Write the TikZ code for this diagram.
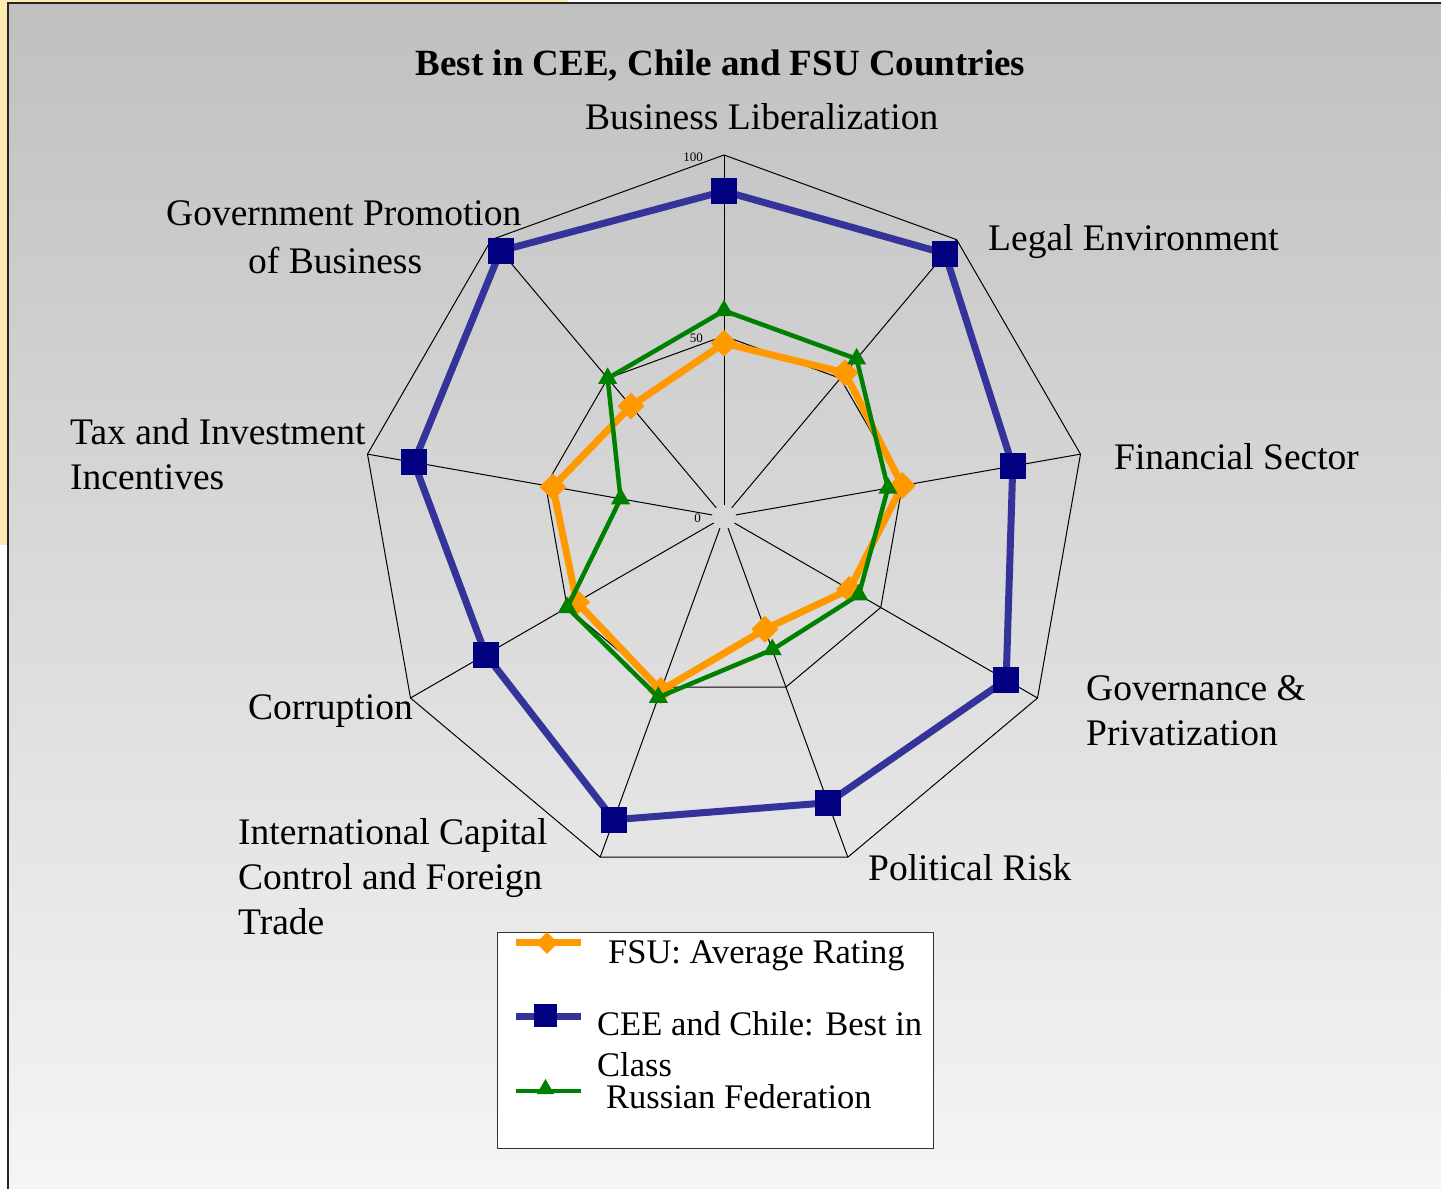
\documentclass[tikz,border=0pt]{standalone}
\usepackage{fontspec}
\setmainfont{Liberation Serif}
\usetikzlibrary{shapes.geometric}
\definecolor{cream}{HTML}{FFE9B3}
\definecolor{fsuorange}{HTML}{FF9900}
\definecolor{ceenavy}{HTML}{000080}
\definecolor{ceeline}{HTML}{333399}
\definecolor{rusgreen}{HTML}{008000}
\definecolor{paneltop}{HTML}{C0C0C0}
\definecolor{panelbot}{HTML}{F5F5F5}
\begin{document}
\begin{tikzpicture}[x=1pt,y=-1pt,
  gridline/.style={line width=1pt, black},
  lbl/.style={font=\fontsize{37.5}{45}\selectfont, inner sep=0pt},
  leglbl/.style={font=\fontsize{34.5}{41}\selectfont, inner sep=0pt},
  ticklbl/.style={font=\fontsize{13}{15}\selectfont, inner sep=0pt, anchor=east},
  fsuline/.style={line width=7pt, fsuorange, line join=round},
  ceeseries/.style={line width=7pt, ceeline, line join=round},
  russeries/.style={line width=4.5pt, rusgreen, line join=round},
  fsumark/.style={diamond, fill=fsuorange, minimum width=27pt, minimum height=27pt, inner sep=0pt, aspect=1},
  ceemark/.style={rectangle, fill=ceenavy, minimum size=26pt, inner sep=0pt},
  rusmark/.style={regular polygon, regular polygon sides=3, fill=rusgreen, minimum size=22pt, inner sep=0pt},
  legfsumark/.style={diamond, fill=fsuorange, minimum width=22pt, minimum height=22pt, inner sep=0pt, aspect=1},
  legceemark/.style={rectangle, fill=ceenavy, minimum size=23pt, inner sep=0pt},
  legrusmark/.style={regular polygon, regular polygon sides=3, fill=rusgreen, minimum size=20pt, inner sep=0pt},
]
\useasboundingbox (0,0) rectangle (1441,1189);
% background
\fill[white] (0,0) rectangle (1441,1189);
\fill[cream] (0,0) rectangle (568,545);
\shade[top color=paneltop, bottom color=panelbot] (8,3) rectangle (1441,1189);
\draw[line width=2.5pt, black!85] (8,1189) -- (8,3) -- (1441,3);

% chart geometry
\coordinate (C) at (724,517);
\foreach \k in {0,...,8} {
  \coordinate (s\k) at ([shift={({40*\k-90}:12)}]C);
  \coordinate (m\k) at ([shift={({40*\k-90}:181)}]C);
  \coordinate (o\k) at ([shift={({40*\k-90}:362)}]C);
}
\foreach \k in {0,...,8} { \draw[gridline] (s\k) -- (o\k); }
\draw[gridline] (m0)--(m1)--(m2)--(m3)--(m4)--(m5)--(m6)--(m7)--(m8)--cycle;
\draw[gridline] (o0)--(o1)--(o2)--(o3)--(o4)--(o5)--(o6)--(o7)--(o8)--cycle;

\node[ticklbl] (t100) at (703,157) {100};
\node[ticklbl] (t50) at (703,338) {50};
\node[ticklbl] (t0) at (701,518) {0};

% data
\foreach \v [count=\k from 0] in {48,52,50,40,33,51,47,48,40} {
  \coordinate (f\k) at ([shift={({40*\k-90}:{3.62*\v})}]C); }
\foreach \v [count=\k from 0] in {90,95,81,90,84,89,76,87,96} {
  \coordinate (c\k) at ([shift={({40*\k-90}:{3.62*\v})}]C); }
\foreach \v [count=\k from 0] in {57,57,46,43,39,53,50,29,50} {
  \coordinate (r\k) at ([shift={({40*\k-90}:{3.62*\v})}]C); }

\draw[fsuline] (f0)--(f1)--(f2)--(f3)--(f4)--(f5)--(f6)--(f7)--(f8)--cycle;
\foreach \k in {0,...,8} { \node[fsumark] (fm\k) at (f\k) {}; }
\draw[ceeseries] (c0)--(c1)--(c2)--(c3)--(c4)--(c5)--(c6)--(c7)--(c8)--cycle;
\foreach \k in {0,...,8} { \node[ceemark] (cm\k) at (c\k) {}; }
\draw[russeries] (r0)--(r1)--(r2)--(r3)--(r4)--(r5)--(r6)--(r7)--(r8)--cycle;
\foreach \k in {0,...,8} { \node[rusmark] (rm\k) at (r\k) {}; }

% title and axis labels
\node[font=\bfseries\fontsize{37}{44}\selectfont, inner sep=0pt, anchor=base] (title) at (720.5,75) {Best in CEE, Chile and FSU Countries};
\node[lbl, anchor=base west] (lBus) at (585,129) {Business Liberalization};
\node[lbl, anchor=base west] (lLeg) at (988,250) {Legal Environment};
\node[lbl, anchor=base west] (lFin) at (1114,469) {Financial Sector};
\node[lbl, anchor=base west] (lGov) at (1086,700) {\begin{tabular}[t]{@{}l@{}}Governance \&\\Privatization\end{tabular}};
\node[lbl, anchor=base west] (lPol) at (868,880) {Political Risk};
\node[lbl, anchor=base west] (lInt) at (238,844) {\begin{tabular}[t]{@{}l@{}}International Capital\\Control and Foreign\\Trade\end{tabular}};
\node[lbl, anchor=base west] (lCor) at (248,719) {Corruption};
\node[lbl, anchor=base west] (lTax) at (70,444) {\begin{tabular}[t]{@{}l@{}}Tax and Investment\\Incentives\end{tabular}};
\node[lbl, anchor=base west] (lPro) at (166,225) {\begin{tabular}[t]{@{}l@{}}Government Promotion\\[3pt]\hspace{82pt}of Business\end{tabular}};

% legend
\node[draw=black!80, line width=1.2pt, fill=white, minimum width=436pt, minimum height=216pt, inner sep=0pt, anchor=north west] (legend) at (497,932) {};
\coordinate (lf1) at (516,942); \coordinate (lf2) at (581,942);
\coordinate (lc1) at (516,1016); \coordinate (lc2) at (581,1016);
\coordinate (lr1) at (516,1091); \coordinate (lr2) at (581,1091);
\draw[fsuline] (lf1) -- (lf2);
\node[legfsumark] (lfm) at (547,943) {};
\draw[ceeseries] (lc1) -- (lc2);
\node[legceemark] (lcm) at (545.5,1015) {};
\draw[russeries] (lr1) -- (lr2);
\node[legrusmark] (lrm) at (545.5,1089) {};
\node[leglbl, anchor=base west] (tf) at (608,963) {FSU: Average Rating};
\node[leglbl, anchor=base west] (tc) at (597,1035) {\begin{tabular}[t]{@{}l@{}}CEE and Chile: Best in\\Class\end{tabular}};
\node[leglbl, anchor=base west] (tr) at (606,1108) {Russian Federation};
\end{tikzpicture}
\end{document}
